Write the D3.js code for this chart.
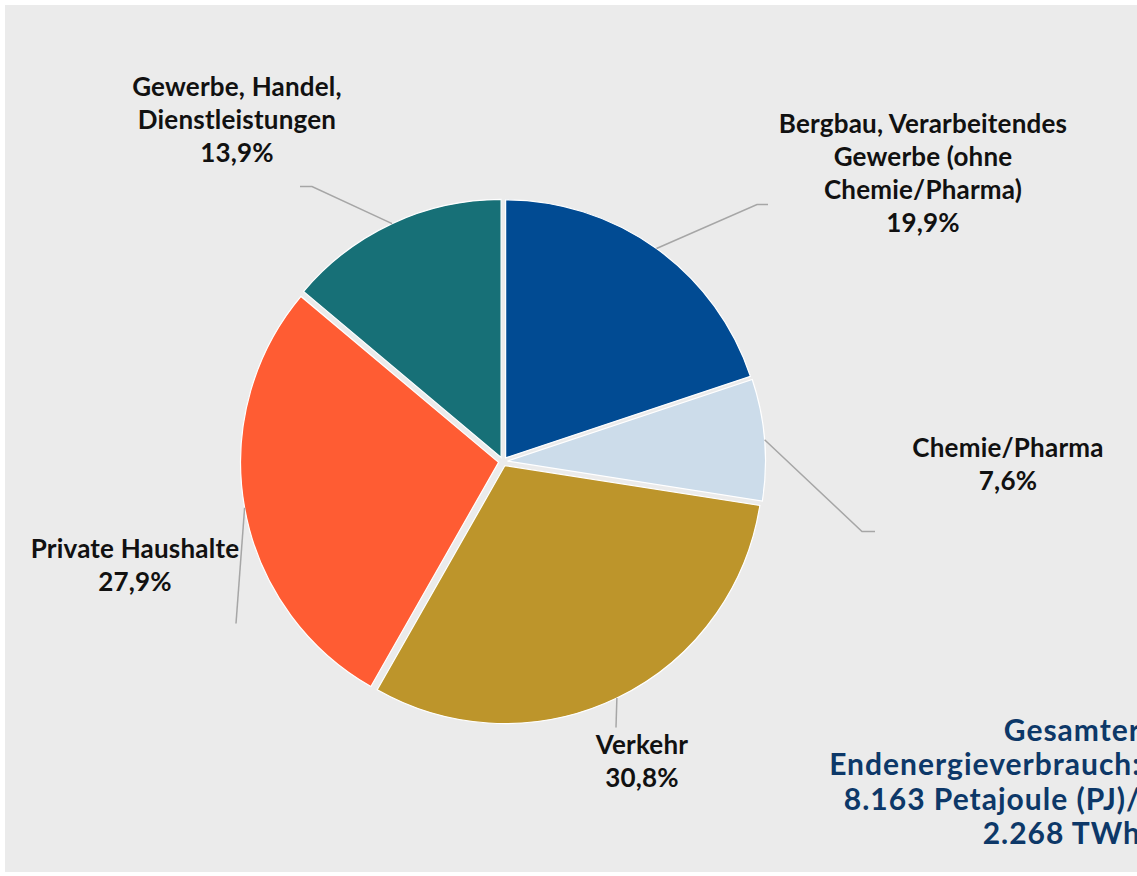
<!DOCTYPE html>
<html>
<head>
<meta charset="utf-8">
<title>Endenergieverbrauch</title>
<script src="https://d3js.org/d3.v7.min.js"></script>
<style>
  body { margin: 0; background: #fff; }
  svg text { font-family: Lato, "Open Sans", sans-serif; font-weight: bold; }
</style>
</head>
<body>
<script>
// data
var sectors = ["Bergbau, Verarbeitendes Gewerbe (ohne Chemie/Pharma)", "Chemie/Pharma", "Verkehr", "Private Haushalte", "Gewerbe, Handel, Dienstleistungen"];
var shares = [19.9, 7.6, 30.8, 27.9, 13.9];
var labelLines = [
  ["Bergbau, Verarbeitendes", "Gewerbe (ohne", "Chemie/Pharma)"],
  ["Chemie/Pharma"],
  ["Verkehr"],
  ["Private Haushalte"],
  ["Gewerbe, Handel,", "Dienstleistungen"]
];
var totalLines = ["Gesamter", "Endenergieverbrauch:", "8.163 Petajoule (PJ)/", "2.268 TWh"];

// layout (label placement relative to pie centre, first-line baseline)
var colors = ["#014b93", "#ccdcea", "#bd952b", "#ff5c33", "#177077"];
var elbows = [[254, -257], [359, 70], null, null, [-191, -275]];
var lineEnds = [[265, -257], [372, 70], [113, 266], [-267, 162], [-203, -275]];
var labelPos = [[420, -328.5], [505, -4.5], [139, 292.5], [-368, 96.5], [-266, -365.5]];

var width = 1137, height = 876;
var cx = 503, cy = 461.5, radius = 258, explode = 4.5, lineH = 33;

var svg = d3.select("body").append("svg")
  .attr("width", width)
  .attr("height", height);

svg.append("rect")
  .attr("x", 5).attr("y", 5)
  .attr("width", width - 5).attr("height", height - 9)
  .attr("fill", "#ebebeb");

var g = svg.append("g").attr("transform", "translate(" + cx + "," + cy + ")");

var pie = d3.pie().sort(null).value(function(d) { return d; });
var arcs = pie(shares);
var arc = d3.arc().innerRadius(0).outerRadius(radius);

function mid(d) { return (d.startAngle + d.endAngle) / 2; }

g.selectAll("path.slice")
  .data(arcs)
  .enter()
  .append("path")
  .attr("class", "slice")
  .attr("d", arc)
  .attr("transform", function(d) {
    var a = mid(d);
    return "translate(" + (explode * Math.sin(a)) + "," + (-explode * Math.cos(a)) + ")";
  })
  .attr("fill", function(d, i) { return colors[i]; })
  .attr("stroke", "#fff")
  .attr("stroke-width", 1.2);

// leader lines
g.selectAll("polyline.leader")
  .data(arcs)
  .enter()
  .append("polyline")
  .attr("class", "leader")
  .attr("fill", "none")
  .attr("stroke", "#a6a6a6")
  .attr("stroke-width", 1.5)
  .attr("points", function(d, i) {
    var a = mid(d), r = radius + explode;
    var pts = [[r * Math.sin(a), -r * Math.cos(a)]];
    if (elbows[i]) pts.push(elbows[i]);
    pts.push(lineEnds[i]);
    return pts.map(function(p) { return p.join(","); }).join(" ");
  });

// labels
var labels = g.selectAll("text.label")
  .data(arcs)
  .enter()
  .append("text")
  .attr("class", "label")
  .attr("text-anchor", "middle")
  .attr("font-size", 26)
  .attr("letter-spacing", 0.2)
  .attr("fill", "#111");

labels.each(function(d, i) {
  var t = d3.select(this);
  var rows = labelLines[i].concat([d3.format(".1f")(shares[i]).replace(".", ",") + "%"]);
  rows.forEach(function(r, k) {
    t.append("tspan").attr("x", labelPos[i][0]).attr("y", labelPos[i][1] + k * lineH).text(r);
  });
});

// total box
var tot = svg.append("text")
  .attr("text-anchor", "end")
  .attr("font-size", 30)
  .attr("letter-spacing", 1)
  .attr("fill", "#0d3868");
totalLines.forEach(function(r, k) {
  tot.append("tspan").attr("x", 1141).attr("y", 741 + k * 34.3).text(r);
});
</script>
</body>
</html>
